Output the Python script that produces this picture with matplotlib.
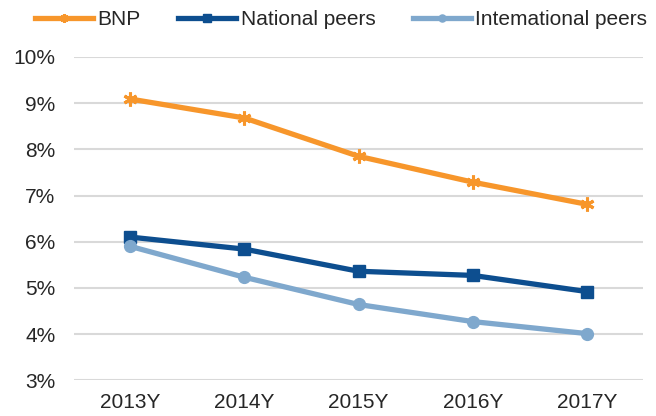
import matplotlib.pyplot as plt
from matplotlib.ticker import FuncFormatter

years = ['2013Y', '2014Y', '2015Y', '2016Y', '2017Y']
bnp = [9.09, 8.68, 7.85, 7.29, 6.81]
national = [6.10, 5.84, 5.36, 5.27, 4.92]
international = [5.90, 5.23, 4.64, 4.27, 4.01]

plt.rcParams['font.family'] = ['Liberation Sans', 'DejaVu Sans']

fig = plt.figure(figsize=(6.56, 4.16), dpi=100)
ax = fig.add_axes([0.113, 0.086, 0.867, 0.777])

x = range(len(years))
ax.plot(x, bnp, color='#F7962B', lw=3.8, marker=(6, 2, 0), ms=10, mew=2.2,
        label='BNP', zorder=3)
ax.plot(x, national, color='#0D4E8F', lw=3.8, marker='s', ms=8.5,
        label='National peers', zorder=3)
ax.plot(x, international, color='#7FA8CD', lw=3.8, marker='o', ms=8.5,
        label='Intemational peers', zorder=3)

ax.set_xlim(-0.49, 4.49)
ax.set_ylim(3, 10)
ax.set_yticks(range(3, 11))
ax.yaxis.set_major_formatter(FuncFormatter(lambda v, p: f'{int(v)}%'))
ax.set_xticks(list(x))
ax.set_xticklabels(years)
ax.grid(axis='y', color='#D9D9D9', lw=1.5)
ax.set_axisbelow(True)
for s in ax.spines.values():
    s.set_visible(False)
ax.tick_params(length=0, labelsize=15, colors='#262626')
ax.tick_params(axis='y', pad=13.5)
ax.tick_params(axis='x', pad=9)

fig.legend(loc='center', bbox_to_anchor=(0.52, 0.952), ncol=3, frameon=False,
           fontsize=15, handlelength=2.8, columnspacing=1.8, handletextpad=0.2,
           markerscale=0.6, labelcolor='#262626')

fig.savefig('out.png')
